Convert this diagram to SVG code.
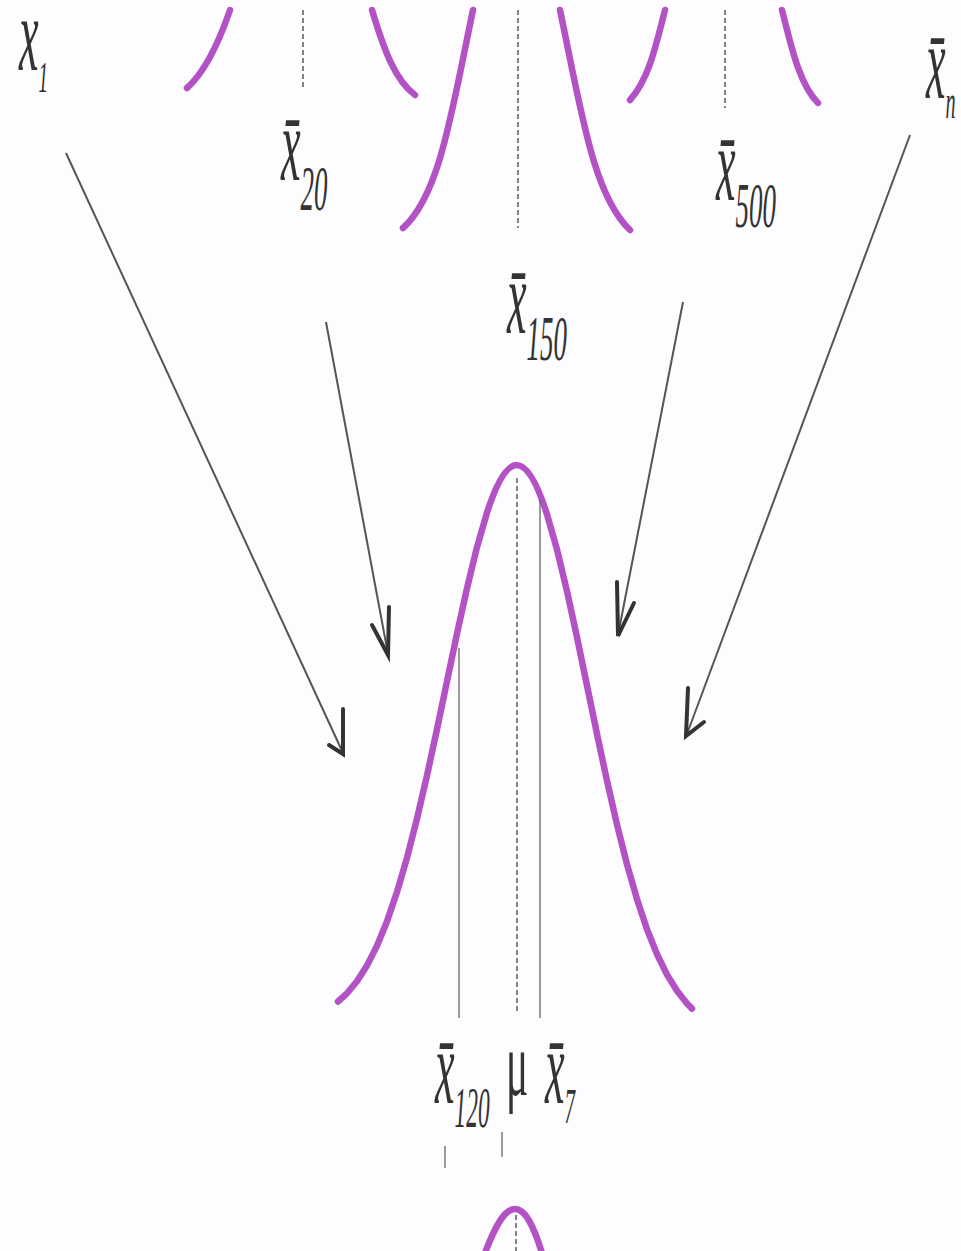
<svg xmlns="http://www.w3.org/2000/svg" width="961" height="1251" viewBox="0 0 961 1251">
<style>
.bell{fill:none;stroke:#b252c4;stroke-width:6.5;stroke-linecap:round;stroke-linejoin:round}
.dash{stroke:#444;stroke-width:1.3;stroke-dasharray:5 3;fill:none}
.thin{stroke:#666;stroke-width:1.3;fill:none}
.shaft{stroke:#555;stroke-width:2;fill:none}
.head{stroke:#333;stroke-width:4;fill:none;stroke-linejoin:miter;stroke-linecap:round}
.lbl{font-family:"Liberation Serif","DejaVu Serif",serif;font-style:italic;fill:#333}
.mu{font-family:"Liberation Serif","DejaVu Serif",serif;fill:#333}
</style>
<rect width="961" height="1251" fill="#fdfcfe"/>

<g id="curve-x20">
<path class="bell" d="M230,10 C218,45 205,72 187,88"/>
<path class="bell" d="M372,10 C384,50 395,80 415,95"/>
<line class="dash" x1="303" y1="10" x2="303" y2="90"/>
</g>
<g id="curve-x150">
<path class="bell" d="M473,10 C452,110 440,195 403,228"/>
<path class="bell" d="M560,10 C581,110 593,195 630,230"/>
<line class="dash" x1="518" y1="10" x2="518" y2="228"/>
</g>
<g id="curve-x500">
<path class="bell" d="M665,10 C655,50 648,80 630,100"/>
<path class="bell" d="M782,10 C792,50 800,85 818,103"/>
<line class="dash" x1="725" y1="10" x2="725" y2="108"/>
</g>

<g id="label-x1"><text class="lbl" transform="translate(19,70) scale(0.42,1)" font-size="105">x<tspan dy="22" font-size="45">1</tspan></text></g>
<g id="label-x20"><text class="lbl" transform="translate(281,180) scale(0.42,1)" font-size="105">x̄<tspan dy="30" font-size="64">20</tspan></text></g>
<g id="label-x150"><text class="lbl" transform="translate(507,333) scale(0.42,1)" font-size="105">x̄<tspan dy="27" font-size="64">150</tspan></text></g>
<g id="label-x500"><text class="lbl" transform="translate(716,200) scale(0.42,1)" font-size="105">x̄<tspan dy="27" font-size="64">500</tspan></text></g>
<g id="label-xn"><text class="lbl" transform="translate(926,98) scale(0.42,1)" font-size="105">x̄<tspan dy="20" font-size="48">n</tspan></text></g>

<g id="sampling-distribution">
<path class="bell" d="M338,1001.5 L347,993.3 L357,981.2 L367,965.6 L377,945.8 L387,921.4 L397,892 L407,857.8 L417,818.6 L427,775.4 L437,729.2 L447,681.3 L457,633.7 L467,588.2 L477,547.1 L487,512.6 C507.5,449 526.5,449 547,514.4 L557,549.5 L567,591.2 L577,637.3 L587,685.5 L597,734 L607,780.8 L617,824.6 L627,864.4 L637,899.2 L647,929.2 L657,954.2 L667,974.6 L677,990.8 L687,1003.5 L692,1008.6"/>
<line class="dash" x1="517" y1="478" x2="517" y2="1013"/>
<line class="thin" x1="540" y1="500" x2="540" y2="1018"/>
<line class="thin" x1="459" y1="648" x2="459" y2="1018"/>
</g>

<g id="label-x120"><text class="lbl" transform="translate(435,1103) scale(0.42,1)" font-size="105">x̄<tspan dy="24" font-size="56">120</tspan></text></g>
<g id="label-mu"><text class="mu" transform="translate(506,1095) scale(0.45,1)" font-size="92">μ</text></g>
<g id="label-x7"><text class="lbl" transform="translate(545,1103) scale(0.42,1)" font-size="105">x̄<tspan dy="20" font-size="50">7</tspan></text></g>
<g id="ticks">
<line class="thin" x1="445" y1="1146" x2="445" y2="1168"/>
<line class="thin" x1="502" y1="1132" x2="502" y2="1157"/>
</g>

<g id="bottom-curve">
<path class="bell" d="M485,1253 C496,1224 505,1209 515,1209 C525,1209 533,1224 542,1253"/>
<line class="dash" x1="516" y1="1215" x2="516" y2="1251"/>
</g>

<g id="connectors">
<line class="shaft" x1="66" y1="153" x2="343" y2="753"/>
<path class="head" d="M343,709 L343,754 L329,745"/>
<line class="shaft" x1="326" y1="322" x2="388" y2="654"/>
<path class="head" d="M389,607 L388,655 L372,625"/>
<line class="shaft" x1="683" y1="302" x2="618" y2="635"/>
<path class="head" d="M617,582 L618,636 L634,603"/>
<line class="shaft" x1="910" y1="135" x2="687" y2="734"/>
<path class="head" d="M688,688 L686,736 L704,722"/>
</g>
</svg>
